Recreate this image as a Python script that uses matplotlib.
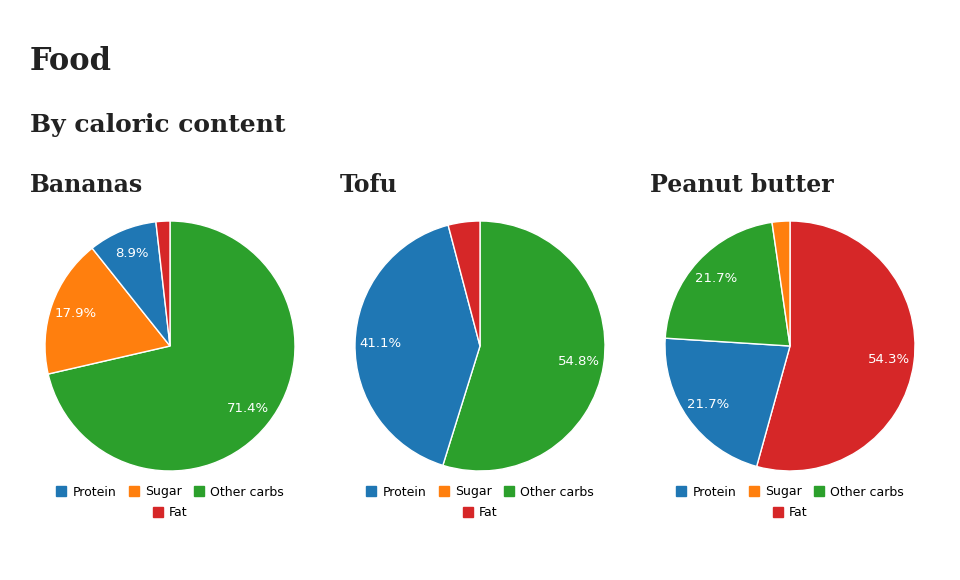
import matplotlib
matplotlib.use("Agg")
import matplotlib.pyplot as plt
from matplotlib.patches import Patch

categories = ["Protein", "Sugar", "Other carbs", "Fat"]
colors = ["#1f77b4", "#ff7f0e", "#2ca02c", "#d62728"]
foods = ["Bananas", "Tofu", "Peanut butter"]
bananas = [8.9, 17.9, 71.4, 1.8]
tofu = [41.1, 0.0, 54.8, 4.1]
peanut_butter = [21.7, 2.3, 21.7, 54.3]
values = [bananas, tofu, peanut_butter]

W, H = 960, 580
fig = plt.figure(figsize=(9.6, 5.8), dpi=100)
serif = "DejaVu Serif"
fig.text(30 / W, 1 - 62 / H, "Food", fontsize=22, fontweight="bold", family=serif,
         color="#222222", va="center")
fig.text(30 / W, 1 - 125 / H, "By caloric content", fontsize=18, fontweight="bold",
         family=serif, color="#222222", va="center")

r = 125
for i, (name, vals) in enumerate(zip(foods, values)):
    cx = 170 + 310 * i
    cy = 346
    fig.text((cx - 140) / W, 1 - 185 / H, name, fontsize=17, fontweight="bold",
             family=serif, color="#222222", va="center")
    ax = fig.add_axes([(cx - r) / W, 1 - (cy + r) / H, 2 * r / W, 2 * r / H])
    order = sorted(range(4), key=lambda k: -vals[k])
    order = [k for k in order if vals[k] > 0]
    wedges, texts, autotexts = ax.pie(
        [vals[k] for k in order], colors=[colors[k] for k in order],
        startangle=90, counterclock=False, radius=1.0,
        autopct=lambda p: f"{p:.1f}%" if p > 5 else "", pctdistance=0.8,
        wedgeprops=dict(edgecolor="white", linewidth=1),
        textprops=dict(color="white", fontsize=9.5))
    ax.set_xlim(-1, 1)
    ax.set_ylim(-1, 1)
    ax.set_aspect("equal")

    h1 = [Patch(color=colors[k], label=categories[k]) for k in range(3)]
    fig.legend(handles=h1, loc="center", bbox_to_anchor=(cx / W, 1 - 492 / H),
               ncol=3, frameon=False, fontsize=9, handlelength=0.8, handleheight=0.8,
               handletextpad=0.5, columnspacing=1.0)
    h2 = [Patch(color=colors[3], label=categories[3])]
    fig.legend(handles=h2, loc="center", bbox_to_anchor=(cx / W, 1 - 513 / H),
               frameon=False, fontsize=9, handlelength=0.8, handleheight=0.8,
               handletextpad=0.5)

fig.savefig("out.png", dpi=100)
